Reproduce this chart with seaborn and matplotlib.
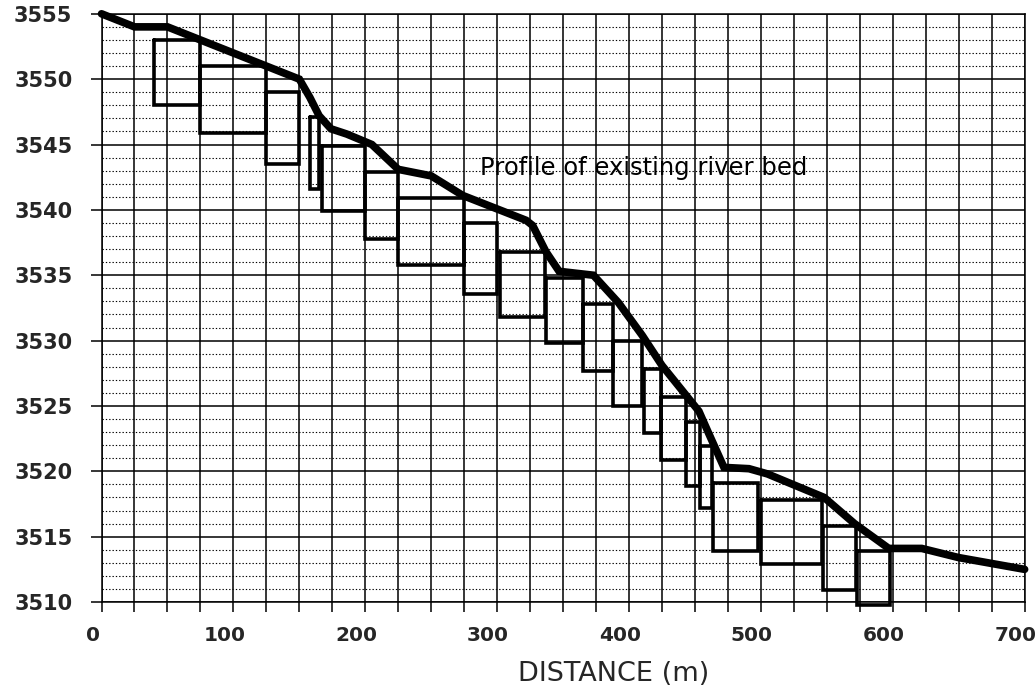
import numpy as np
import pandas as pd
import matplotlib
matplotlib.use("Agg")
import matplotlib.pyplot as plt
from matplotlib.ticker import MultipleLocator
from matplotlib.transforms import ScaledTranslation
import seaborn as sns

# ---------------------------------------------
# DATA
# ---------------------------------------------
# profile of the existing river bed
bed_dist = [0, 25, 50, 150, 158, 165, 174, 186, 205, 225, 250, 274, 322, 327,
            337, 347, 373, 392, 410, 425, 445, 453, 460, 472, 491, 505, 548,
            571, 597, 622, 650, 700]
bed_elev = [3555, 3554, 3554, 3550, 3548.6, 3547.2, 3546.2, 3545.8, 3545,
            3543.1, 3542.6, 3541.1, 3539.2, 3538.8, 3536.8, 3535.3, 3535.0,
            3532.9, 3530.4, 3528.1, 3525.6, 3524.6, 3523.0, 3520.3, 3520.2,
            3519.8, 3518.0, 3516.0, 3514.1, 3514.1, 3513.4, 3512.5]

# drop steps: start / end distance, crest level, floor level
step_from = [40, 75, 125, 158, 167, 200, 225, 275, 302, 337,
             365, 388, 411, 424, 443, 454, 464, 500, 547, 573]
step_to   = [75, 125, 150, 165, 200, 225, 275, 300, 336, 365,
             388, 410, 424, 443, 454, 463, 498, 546, 572, 598]
step_top  = [3553, 3551, 3549, 3547.1, 3544.9, 3542.9, 3540.9, 3539, 3536.8, 3534.8,
             3532.8, 3530, 3527.8, 3525.7, 3523.8, 3521.9, 3519.1, 3517.8, 3515.8, 3513.9]
step_bot  = [3548, 3545.9, 3543.5, 3541.6, 3539.9, 3537.8, 3535.8, 3533.6, 3531.8, 3529.8,
             3527.7, 3525, 3522.9, 3520.9, 3518.9, 3517.2, 3513.9, 3512.9, 3510.9, 3509.8]

bed = pd.DataFrame({"dist": bed_dist, "elev": bed_elev})

rows = []
for i, (a, b, t, f) in enumerate(zip(step_from, step_to, step_top, step_bot)):
    for d, e in [(a, t), (b, t), (b, f), (a, f), (a, t)]:
        rows.append({"step": i, "dist": d, "elev": e})
steps = pd.DataFrame(rows)

# ---------------------------------------------
# PLOT
# ---------------------------------------------
sns.set_theme(style="white")
plt.rcParams["font.family"] = ["DejaVu Sans"]

fig = plt.figure(figsize=(10.36, 6.90), dpi=100)
ax = fig.add_axes([0.098, 0.1275, 0.891, 0.8525])

sns.lineplot(data=steps, x="dist", y="elev", units="step", estimator=None,
             sort=False, color="black", lw=2.6, ax=ax)
sns.lineplot(data=bed, x="dist", y="elev", sort=False, color="black",
             lw=5.5, ax=ax)
for ln in ax.lines:
    ln.set_clip_on(False)
    ln.set_solid_joinstyle("miter")

ax.set_xlim(0, 700)
ax.set_ylim(3510, 3555)
ax.xaxis.set_major_locator(MultipleLocator(100))
ax.xaxis.set_minor_locator(MultipleLocator(25))
ax.yaxis.set_major_locator(MultipleLocator(5))
ax.yaxis.set_minor_locator(MultipleLocator(1))

ax.grid(which="both", axis="x", color="black", lw=1.1, ls="-")
ax.grid(which="major", axis="y", color="black", lw=1.1, ls="-")
ax.grid(which="minor", axis="y", color="black", lw=0.8, ls=(0, (1.2, 1.8)))
ax.set_axisbelow(True)

ax.tick_params(axis="x", which="both", direction="out", length=7, width=1.1,
               color="black", bottom=True, pad=10)
ax.tick_params(axis="y", which="major", direction="out", length=8, width=1.1,
               color="black", left=True, pad=13)
ax.tick_params(axis="y", which="minor", length=0)

# labels sit a little left of their ticks in the drawing
shift = ScaledTranslation(-9 / 100, 0, fig.dpi_scale_trans)
for lab in ax.get_xticklabels():
    lab.set_fontsize(14.5)
    lab.set_fontweight("bold")
    lab.set_transform(lab.get_transform() + shift)
for lab in ax.get_yticklabels():
    lab.set_fontsize(15)
    lab.set_fontweight("bold")

for sp in ax.spines.values():
    sp.set_color("black")
    sp.set_linewidth(1.1)

ax.set_xlabel("")
ax.set_ylabel("")
fig.text(614 / 1036, 1 - 674 / 690, "DISTANCE (m)", ha="center", va="center",
         fontsize=19.5)

ax.text(287, 3543.2, "Profile of existing river bed", fontsize=17.5,
        va="center", ha="left", color="black")

plt.savefig("out.png", dpi=100)
